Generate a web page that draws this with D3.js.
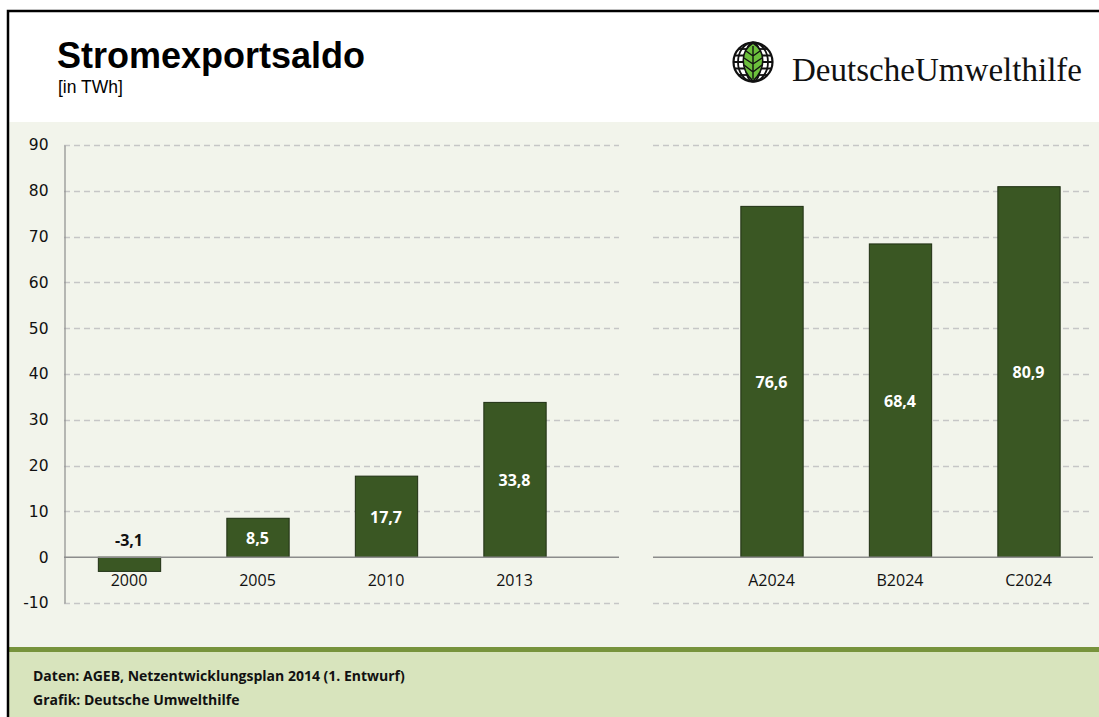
<!DOCTYPE html>
<html>
<head>
<meta charset="utf-8">
<script src="https://cdn.jsdelivr.net/npm/d3@7"></script>
<style>
  body { margin: 0; background: #fff; }
  svg { display: block; }
</style>
</head>
<body>
<svg id="chart" width="1099" height="717"></svg>
<script>
// Daten
const categories = ['2000', '2005', '2010', '2013', '', 'A2024', 'B2024', 'C2024']
const values = [-3.1, 8.5, 17.7, 33.8, null, 76.6, 68.4, 80.9]
const yTicks = [-10, 0, 10, 20, 30, 40, 50, 60, 70, 80, 90]
const title = 'Stromexportsaldo'
const unit = '[in TWh]'
const sources = ['Daten: AGEB, Netzentwicklungsplan 2014 (1. Entwurf)', 'Grafik: Deutsche Umwelthilfe']

const W = 1099
const H = 717
const svg = d3.select('#chart')

// Hintergründe
svg.append('rect').attr('x', 8).attr('y', 10).attr('width', W).attr('height', H)
  .attr('fill', '#fff')
svg.append('rect').attr('x', 9).attr('y', 122).attr('width', W).attr('height', 526)
  .attr('fill', '#f2f4eb')
svg.append('rect').attr('x', 9).attr('y', 651).attr('width', W).attr('height', 70)
  .attr('fill', '#d8e4bd')
svg.append('rect').attr('x', 9).attr('y', 647).attr('width', W).attr('height', 5)
  .attr('fill', '#77933c')
// Rahmen
svg.append('path').attr('d', `M8,${H} V11 H${W}`)
  .attr('fill', 'none').attr('stroke', '#000').attr('stroke-width', 2.5)

// Titel
svg.append('text').attr('x', 57).attr('y', 68).text(title)
  .attr('font-family', 'Liberation Sans, Arial, sans-serif')
  .attr('font-weight', 'bold').attr('font-size', 36).attr('fill', '#000')
svg.append('text').attr('x', 58).attr('y', 93).text(unit)
  .attr('font-family', 'Liberation Sans, Arial, sans-serif')
  .attr('font-size', 17.5).attr('fill', '#000')

// Logo
const logo = svg.append('g').attr('transform', 'translate(753,62)')
const r = 19.5
logo.append('circle').attr('r', r).attr('fill', '#fff').attr('stroke', '#111').attr('stroke-width', 2.2)
;[-13, -6.5, 0, 6.5, 13].forEach(dy => {
  const hw = Math.sqrt(r * r - dy * dy)
  logo.append('line').attr('x1', -hw).attr('x2', hw).attr('y1', dy).attr('y2', dy)
    .attr('stroke', '#111').attr('stroke-width', 1.8)
})
;[8, 15].forEach(rx => {
  logo.append('ellipse').attr('rx', rx).attr('ry', r).attr('fill', 'none')
    .attr('stroke', '#111').attr('stroke-width', 1.8)
})
logo.append('path')
  .attr('d', 'M0,-19 C13,-11 13,7 0,19 C-13,7 -13,-11 0,-19 Z')
  .attr('fill', '#6cbf3c').attr('stroke', '#111').attr('stroke-width', 1.5)
logo.append('path').attr('d', 'M0,-16 V17 M0,-6 L-7,-11 M0,-6 L7,-11 M0,2 L-9,-4 M0,2 L9,-4 M0,10 L-9,3 M0,10 L9,3')
  .attr('fill', 'none').attr('stroke', '#111').attr('stroke-width', 1.4)
svg.append('text').attr('x', 792).attr('y', 81).text('DeutscheUmwelthilfe')
  .attr('font-family', 'Liberation Serif, Times New Roman, serif')
  .attr('font-size', 34).attr('fill', '#111')
  .attr('textLength', 290).attr('lengthAdjust', 'spacingAndGlyphs')

// Skalen
const x = d3.scaleBand().domain(categories).range([64.75, 1092.75])
  .paddingInner(0.515).paddingOuter(0.2575)
const y = d3.scaleLinear().domain([-10, 90]).range([603, 145])

const panels = [[64, 619], [653, 1093]]

// Gitterlinien
const grid = svg.append('g')
panels.forEach(([x0, x1]) => {
  grid.selectAll(null).data(yTicks.filter(t => t !== 0)).enter().append('line')
    .attr('x1', x0).attr('x2', x1)
    .attr('y1', d => Math.round(y(d)) + 0.5).attr('y2', d => Math.round(y(d)) + 0.5)
    .attr('stroke', '#c6c6c6').attr('stroke-width', 1.3).attr('stroke-dasharray', '6,4')
})

// Balken
const barData = categories.map((c, i) => ({ cat: c, value: values[i] })).filter(d => d.value !== null)
svg.append('g').selectAll('rect').data(barData).enter().append('rect')
  .attr('x', d => x(d.cat) + 0.5)
  .attr('width', x.bandwidth())
  .attr('y', d => y(Math.max(0, d.value)))
  .attr('height', d => Math.abs(y(d.value) - y(0)))
  .attr('fill', '#3a5723').attr('stroke', '#1f2f13').attr('stroke-width', 1)

// Nulllinie
panels.forEach(([x0, x1]) => {
  svg.append('line').attr('x1', x0).attr('x2', x1)
    .attr('y1', y(0)).attr('y2', y(0))
    .attr('stroke', '#8c8c8c').attr('stroke-width', 1.5)
})

// Y-Achse
const yAxis = svg.append('g').attr('transform', 'translate(64.5,0)')
  .call(d3.axisLeft(y).tickValues(yTicks).tickSize(0).tickPadding(16).tickFormat(d => String(d)))
yAxis.select('.domain').attr('stroke', '#8c8c8c').attr('stroke-width', 1.2)
yAxis.selectAll('text').attr('font-family', 'DejaVu Sans, Verdana, sans-serif')
  .attr('font-size', 15.5).attr('fill', '#111')

// X-Achse Beschriftung
const fontLab = 'Open Sans, Calibri, sans-serif'
svg.append('g').selectAll('text').data(barData).enter().append('text')
  .attr('x', d => x(d.cat) + x.bandwidth() / 2)
  .attr('y', y(0) + 29)
  .attr('text-anchor', 'middle')
  .attr('font-family', fontLab).attr('font-size', 16).attr('fill', '#111')
  .text(d => d.cat)

// Werte
const fmt = v => (v < 0 ? '-' : '') + d3.format('.1f')(Math.abs(v)).replace('.', ',')
svg.append('g').selectAll('text').data(barData).enter().append('text')
  .attr('x', d => x(d.cat) + x.bandwidth() / 2)
  .attr('y', d => d.value < 0 ? y(0) - 11 : (y(d.value) + y(0)) / 2 + 6)
  .attr('text-anchor', 'middle')
  .attr('font-family', fontLab).attr('font-weight', 'bold').attr('font-size', 16)
  .attr('fill', d => d.value < 0 ? '#111' : '#fff')
  .text(d => fmt(d.value))

// Quellen
svg.append('g').selectAll('text').data(sources).enter().append('text')
  .attr('x', 33).attr('y', (d, i) => 681 + i * 24)
  .attr('font-family', 'Open Sans, Calibri, sans-serif').attr('font-weight', 'bold')
  .attr('font-size', 14).attr('fill', '#111')
  .text(d => d)
</script>
</body>
</html>
